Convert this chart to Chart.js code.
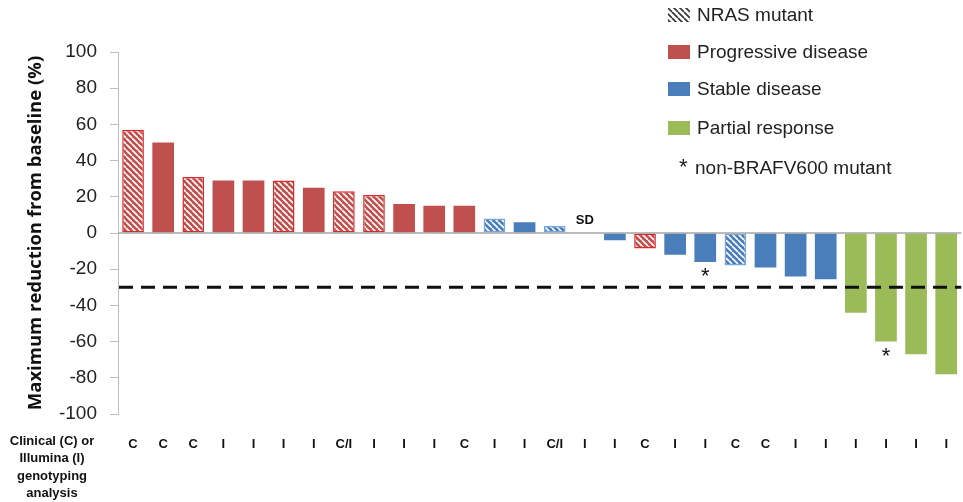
<!DOCTYPE html>
<html>
<head>
    <title>Maximum reduction from baseline</title>
    <script src="https://cdn.jsdelivr.net/npm/chart.js"></script>
    <style>
        html, body { margin: 0; padding: 0; background: #fff; }
        #wrap { width: 963px; height: 502px; }
    </style>
</head>
<body>
    <div id="wrap"><canvas id="waterfall" width="963" height="502"></canvas></div>

    <script>
        // genotyping source per patient (x tick labels)
        const genotyping = ['C','C','C','I','I','I','I','C/I','I','I','I','C',
                            'I','I','C/I','I','I','C','I','I','C','C','I','I',
                            'I','I','I','I'];
        // maximum reduction from baseline (%)
        const reduction = [57, 50, 31, 29, 29, 29, 25, 23, 21, 16, 15, 15,
                           8, 6, 4, 0, -4, -8.5, -12, -16, -18, -19, -24, -25.5,
                           -44, -60, -67, -78];
        // best response: PD / SD / PR
        const response = ['PD','PD','PD','PD','PD','PD','PD','PD','PD','PD','PD','PD',
                          'SD','SD','SD','SD','SD','PD','SD','SD','SD','SD','SD','SD',
                          'PR','PR','PR','PR'];
        const nrasMutant = [0, 2, 5, 7, 8, 12, 14, 17, 20];
        const nonV600 = [19, 25];
        const sdNoBar = [15];
        const threshold = -30;
        const yTicks = [-100, -80, -60, -40, -20, 0, 20, 40, 60, 80, 100];

        const colors = { PD: '#c0504d', SD: '#4a7ebb', PR: '#9bbb59' };
        const hatchBorder = { PD: '#dc2a2a', SD: '#7aa7dc', PR: '#9bbb59' };

        function hatch(base, stripe) {
            const c = document.createElement('canvas');
            c.width = 6; c.height = 6;
            const g = c.getContext('2d');
            g.fillStyle = base;
            g.fillRect(0, 0, 6, 6);
            g.strokeStyle = stripe;
            g.lineWidth = 1.6;
            g.beginPath();
            // "\" direction stripes, tiled
            for (let k = -6; k <= 6; k += 6) {
                g.moveTo(k, 0);
                g.lineTo(k + 6, 6);
            }
            g.stroke();
            return g.createPattern(c, 'repeat');
        }

        const patterns = {
            PD: hatch(colors.PD, '#ffffff'),
            SD: hatch(colors.SD, '#ffffff'),
            legend: hatch('#ffffff', '#333333')
        };

        const fills = reduction.map((v, i) =>
            nrasMutant.includes(i) ? patterns[response[i]] : colors[response[i]]);
        const borders = reduction.map((v, i) =>
            nrasMutant.includes(i) ? hatchBorder[response[i]] : colors[response[i]]);
        const borderWidths = reduction.map((v, i) => nrasMutant.includes(i) ? 1.5 : 0);

        const overlay = {
            id: 'overlay',
            afterDatasetsDraw(chart) {
                const ctx = chart.ctx;
                const area = chart.chartArea;
                const x = chart.scales.x, y = chart.scales.y;
                const bars = chart.getDatasetMeta(0).data;
                ctx.save();

                // zero line
                ctx.strokeStyle = '#a6a6a6';
                ctx.lineWidth = 1.5;
                ctx.beginPath();
                ctx.moveTo(area.left, y.getPixelForValue(0));
                ctx.lineTo(area.right, y.getPixelForValue(0));
                ctx.stroke();

                // -30% threshold
                ctx.strokeStyle = '#111';
                ctx.lineWidth = 3;
                ctx.setLineDash([14, 8]);
                ctx.beginPath();
                ctx.moveTo(area.left + 1, y.getPixelForValue(threshold));
                ctx.lineTo(area.right, y.getPixelForValue(threshold));
                ctx.stroke();
                ctx.setLineDash([]);

                // SD label for patient without measurable change
                ctx.fillStyle = '#111';
                ctx.font = 'bold 13px "Liberation Sans"';
                ctx.textAlign = 'center';
                ctx.textBaseline = 'middle';
                sdNoBar.forEach(i => {
                    ctx.fillText('SD', x.getPixelForValue(i), y.getPixelForValue(0) - 13);
                });

                // non-BRAFV600 markers
                ctx.font = '22px "Liberation Sans"';
                ctx.textBaseline = 'alphabetic';
                nonV600.forEach(i => {
                    ctx.fillText('*', bars[i].x, bars[i].y + 21);
                });

                // left caption for the genotyping row
                ctx.font = 'bold 13px "Liberation Sans"';
                ctx.textBaseline = 'middle';
                ['Clinical (C) or', 'Illumina (I)', 'genotyping', 'analysis'].forEach((t, k) => {
                    ctx.fillText(t, 52, 441 + k * 17.5);
                });

                // legend
                const items = [
                    { text: 'NRAS mutant', fill: patterns.legend, yc: 15 },
                    { text: 'Progressive disease', fill: colors.PD, yc: 52 },
                    { text: 'Stable disease', fill: colors.SD, yc: 89 },
                    { text: 'Partial response', fill: colors.PR, yc: 128 }
                ];
                ctx.textAlign = 'left';
                ctx.font = '19px "Liberation Sans"';
                items.forEach(it => {
                    ctx.fillStyle = it.fill;
                    ctx.fillRect(668, it.yc - 7, 22, 14);
                    ctx.fillStyle = '#222';
                    ctx.fillText(it.text, 697, it.yc + 1);
                });
                ctx.font = '22px "Liberation Sans"';
                ctx.textBaseline = 'alphabetic';
                ctx.fillText('*', 679, 174);
                ctx.font = '19px "Liberation Sans"';
                ctx.textBaseline = 'middle';
                ctx.fillText('non-BRAFV600 mutant', 695, 169);

                ctx.restore();
            }
        };

        new Chart(document.getElementById('waterfall'), {
            type: 'bar',
            data: {
                labels: genotyping,
                datasets: [{
                    data: reduction,
                    backgroundColor: fills,
                    borderColor: borders,
                    borderWidth: borderWidths,
                    borderSkipped: false,
                    barPercentage: 0.72,
                    categoryPercentage: 1
                }]
            },
            options: {
                responsive: false,
                animation: false,
                layout: { padding: { top: 52, left: 0, right: -14, bottom: 0 } },
                plugins: { legend: { display: false }, tooltip: { enabled: false } },
                scales: {
                    x: {
                        grid: { display: false },
                        border: { display: false },
                        ticks: {
                            color: '#111',
                            font: { family: 'Liberation Sans', size: 13, weight: 'bold' },
                            padding: 15,
                            maxRotation: 0,
                            autoSkip: false
                        },
                        afterFit: s => { s.height = 88; }
                    },
                    y: {
                        min: -100,
                        max: 100,
                        afterBuildTicks: s => { s.ticks = yTicks.map(v => ({ value: v })); },
                        ticks: {
                            color: '#222',
                            font: { family: 'Liberation Sans', size: 19 },
                            padding: 13
                        },
                        grid: { drawOnChartArea: false, drawTicks: true, tickLength: 8, color: '#bfbfbf' },
                        border: { color: '#bfbfbf', width: 1 },
                        title: {
                            display: true,
                            text: 'Maximum reduction from baseline (%)',
                            color: '#111',
                            font: { family: 'Open Sans', size: 18.5, weight: 'bold' },
                            padding: { top: 25, bottom: 0 }
                        },
                        afterFit: s => { s.width = 118; }
                    }
                }
            },
            plugins: [overlay]
        });
    </script>
</body>
</html>
